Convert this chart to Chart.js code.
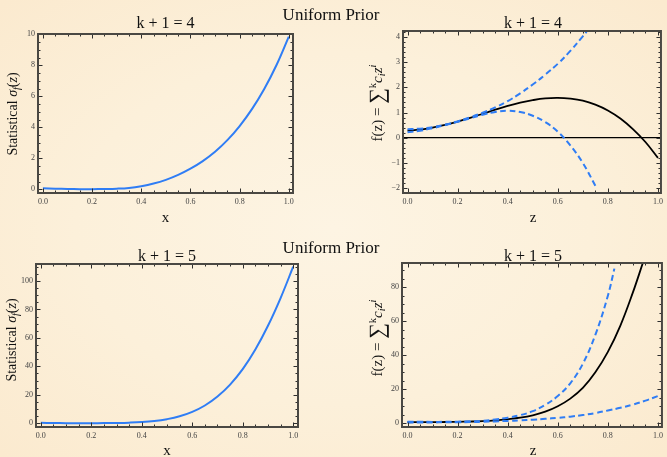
<!DOCTYPE html>
<html><head><meta charset="utf-8">
<script src="https://cdn.jsdelivr.net/npm/chart.js@4/dist/chart.umd.min.js"></script>
<style>
html,body{margin:0;padding:0;}
body{width:667px;height:457px;overflow:hidden;position:relative;
background: radial-gradient(ellipse 70% 70% at 50% 50%, #fdf4e3 0%, #fcf0da 55%, #fbeacf 100%);
font-family:"Liberation Serif","Times New Roman",serif;color:#111;}
canvas{position:absolute;}
.t{position:absolute;white-space:nowrap;transform:translate(-50%,-50%);line-height:1;}
.r{position:absolute;white-space:nowrap;transform:translate(-50%,-50%) rotate(-90deg);line-height:1;}
.sb{font-size:0.7em;vertical-align:-0.25em;}
.sp{font-size:0.7em;vertical-align:0.55em;}
</style></head><body>
<canvas id="p1" width="333" height="228" style="left:0;top:0"></canvas>
<canvas id="p2" width="334" height="228" style="left:333px;top:0"></canvas>
<canvas id="p3" width="333" height="229" style="left:0;top:228px"></canvas>
<canvas id="p4" width="334" height="229" style="left:333px;top:228px"></canvas>

<div class="t" style="left:331px;top:14px;font-size:17px">Uniform Prior</div>
<div class="t" style="left:331px;top:247px;font-size:17px">Uniform Prior</div>
<div class="t" style="left:165.5px;top:22.5px;font-size:16px">k + 1 = 4</div>
<div class="t" style="left:533px;top:22.5px;font-size:16px">k + 1 = 4</div>
<div class="t" style="left:167px;top:256px;font-size:16px">k + 1 = 5</div>
<div class="t" style="left:533px;top:256px;font-size:16px">k + 1 = 5</div>
<div class="t" style="left:165.5px;top:217px;font-size:15px">x</div>
<div class="t" style="left:533px;top:217px;font-size:15px">z</div>
<div class="t" style="left:167px;top:450px;font-size:15px">x</div>
<div class="t" style="left:533px;top:450px;font-size:15px">z</div>
<div class="r" style="left:14px;top:114px;font-size:14px">Statistical <i>σ<span class="sb">f</span></i>(<i>z</i>)</div>
<div class="r" style="left:13px;top:340px;font-size:14px">Statistical <i>σ<span class="sb">f</span></i>(<i>z</i>)</div>
<div class="r" style="left:377px;top:103px;font-size:15px">f(z) = <span style="font-size:22px;vertical-align:-2px">∑</span><span class="sp">k</span><i>c<span class="sb">i</span>z<span class="sp">i</span></i></div>
<div class="r" style="left:377px;top:338px;font-size:15px">f(z) = <span style="font-size:22px;vertical-align:-2px">∑</span><span class="sp">k</span><i>c<span class="sb">i</span>z<span class="sp">i</span></i></div>

<script>
// ---------- data ----------
const xGrid = [0,0.05,0.1,0.15,0.2,0.25,0.3,0.35,0.4,0.45,0.5,0.55,0.6,0.65,0.7,0.75,0.8,0.85,0.9,0.95,1.0];

// top-left: statistical sigma, k+1 = 4
const sigmaK4 = [0.06,0.04,0.02,0.01,0.01,0.02,0.04,0.09,0.20,0.37,0.61,0.93,1.33,1.82,2.42,3.17,4.08,5.17,6.47,8.02,9.85];

// bottom-left: statistical sigma, k+1 = 5
const sigmaK5 = [0.3,0.2,0.12,0.1,0.1,0.15,0.25,0.45,0.85,1.6,2.9,4.9,8.0,12.5,18.8,27.2,38.0,51.8,68.5,88.0,110.0];

// top-right: fit f(z), k+1 = 4, with upper / lower dashed bands
const fitK4 = [0.28,0.32,0.40,0.51,0.64,0.79,0.95,1.11,1.26,1.39,1.49,1.56,1.58,1.55,1.47,1.31,1.08,0.76,0.34,-0.17,-0.80];
const upperZK4 = [0,0.05,0.1,0.15,0.2,0.25,0.3,0.35,0.4,0.45,0.5,0.55,0.6,0.65,0.7,0.715];
const upperK4  = [0.34,0.36,0.42,0.52,0.65,0.81,0.99,1.20,1.45,1.76,2.11,2.50,2.93,3.44,4.02,4.20];
const lowerZK4 = [0,0.05,0.1,0.15,0.2,0.25,0.3,0.35,0.4,0.45,0.5,0.55,0.6,0.65,0.7,0.75,0.755];
const lowerK4  = [0.22,0.28,0.38,0.50,0.63,0.77,0.91,1.02,1.07,1.02,0.87,0.62,0.24,-0.30,-1.00,-1.90,-2.00];

// bottom-right: fit f(z), k+1 = 5, with upper / lower dashed bands
const fitZK5 = [0,0.05,0.1,0.15,0.2,0.25,0.3,0.35,0.4,0.45,0.5,0.55,0.6,0.65,0.7,0.75,0.8,0.85,0.9,0.94];
const fitK5  = [0.6,0.65,0.7,0.75,0.85,1.0,1.25,1.7,2.4,3.3,4.7,6.8,10.0,14.5,20.8,30.0,42.0,57.5,77.0,94.5];
const upperZK5 = [0,0.05,0.1,0.15,0.2,0.25,0.3,0.35,0.4,0.45,0.5,0.55,0.6,0.65,0.7,0.75,0.8,0.826];
const upperK5  = [0.9,0.85,0.8,0.85,0.95,1.15,1.5,2.2,3.3,4.8,7.1,10.8,16.0,23.5,35.0,52.0,75.0,91.0];
const lowerK5  = [0.4,0.45,0.5,0.55,0.6,0.7,0.85,1.1,1.4,1.7,2.1,2.6,3.2,3.9,4.8,6.0,7.5,9.1,11.0,13.3,16.0];

// ---------- drawing ----------
const BLUE = '#2f7df5';
const FONT = "'Liberation Serif','Times New Roman',serif";
const pts = (xs, ys) => xs.map((x, i) => ({x: x, y: ys[i]}));

const framePlugin = {
  id: 'frame',
  afterDraw(chart) {
    const o = chart.options.plugins.frame;
    const {ctx, chartArea: a, scales} = chart;
    ctx.save();
    ctx.strokeStyle = '#2e2e2e';
    ctx.lineWidth = 1;
    const drawTicks = (scale, major, minor, horiz) => {
      const i0 = Math.ceil(scale.min / minor - 1e-9);
      for (let i = i0; i * minor <= scale.max + 1e-9; i++) {
        const v = i * minor;
        const r = v / major;
        const isMajor = Math.abs(r - Math.round(r)) < 1e-6;
        const len = isMajor ? 4.5 : 2.5;
        const p = Math.round(scale.getPixelForValue(v)) + 0.5;
        ctx.beginPath();
        if (horiz) {
          ctx.moveTo(p, a.bottom); ctx.lineTo(p, a.bottom - len);
          ctx.moveTo(p, a.top); ctx.lineTo(p, a.top + len);
        } else {
          ctx.moveTo(a.left, p); ctx.lineTo(a.left + len, p);
          ctx.moveTo(a.right, p); ctx.lineTo(a.right - len, p);
        }
        ctx.stroke();
      }
    };
    drawTicks(scales.x, o.xMajor, o.xMinor, true);
    drawTicks(scales.y, o.yMajor, o.yMinor, false);
    ctx.strokeStyle = '#4a4843';
    ctx.lineWidth = 2;
    ctx.strokeRect(a.left, a.top, a.right - a.left, a.bottom - a.top);
    ctx.restore();
  }
};

function makePanel(id, cfg) {
  const canvas = document.getElementById(id);
  const W = canvas.width, H = canvas.height, A = cfg.area;
  const tickFont = {family: FONT, size: 8};
  return new Chart(canvas, {
    type: 'scatter',
    data: {datasets: cfg.datasets},
    options: {
      responsive: false, animation: false, maintainAspectRatio: false,
      layout: {padding: {left: 0, top: A.top, right: W - A.right, bottom: 0}},
      elements: {point: {radius: 0}},
      plugins: {
        legend: {display: false}, tooltip: {enabled: false}, title: {display: false},
        frame: {xMajor: 0.2, xMinor: 0.05, yMajor: cfg.yMajor, yMinor: cfg.yMinor}
      },
      scales: {
        x: {
          type: 'linear', min: cfg.x[0], max: cfg.x[1],
          afterFit: s => { s.height = H - A.bottom; },
          grid: {display: false, drawTicks: false}, border: {display: false},
          ticks: {stepSize: 0.2, includeBounds: false, autoSkip: false, maxRotation: 0,
                  padding: 4, font: tickFont, color: '#444',
                  callback: v => Number(v).toFixed(1)}
        },
        y: {
          type: 'linear', min: cfg.y[0], max: cfg.y[1],
          afterFit: s => { s.width = A.left; },
          grid: cfg.zeroLine ? {display: true, drawTicks: false, lineWidth: 1.2,
                  color: c => (c.tick && c.tick.value === 0) ? '#000' : 'rgba(0,0,0,0)'}
                : {display: false, drawTicks: false},
          border: {display: false},
          ticks: {stepSize: cfg.yMajor, includeBounds: false, autoSkip: false,
                  padding: 3, font: tickFont, color: '#444',
                  callback: v => v < 0 ? '\u2212' + Math.abs(v) : String(Math.round(v * 100) / 100)}
        }
      }
    },
    plugins: [framePlugin]
  });
}

const solidBlue = data => ({data, showLine: true, borderColor: BLUE, borderWidth: 2, tension: 0.4, order: 0});
const dashBlue = data => ({data, showLine: true, borderColor: BLUE, borderWidth: 2, borderDash: [6, 3.5], tension: 0.4, order: 0});
const solidBlack = data => ({data, showLine: true, borderColor: '#000', borderWidth: 1.8, tension: 0.4, order: 1});

makePanel('p1', {
  area: {left: 38, right: 293, top: 34, bottom: 193},
  x: [-0.02, 1.017], y: [-0.24, 10.02], yMajor: 2, yMinor: 0.5,
  datasets: [solidBlue(pts(xGrid, sigmaK4))]
});
makePanel('p2', {
  area: {left: 70, right: 330, top: 31, bottom: 193},
  x: [-0.018, 1.012], y: [-2.19, 4.23], yMajor: 1, yMinor: 0.2, zeroLine: true,
  datasets: [dashBlue(pts(upperZK4, upperK4)), dashBlue(pts(lowerZK4, lowerK4)), solidBlack(pts(xGrid, fitK4))]
});
makePanel('p3', {
  area: {left: 36, right: 298, top: 36, bottom: 199},
  x: [-0.019, 1.019], y: [-2.6, 111.9], yMajor: 20, yMinor: 5,
  datasets: [solidBlue(pts(xGrid, sigmaK5))]
});
makePanel('p4', {
  area: {left: 69, right: 331, top: 35, bottom: 199},
  x: [-0.022, 1.016], y: [-2.2, 94.3], yMajor: 20, yMinor: 5,
  datasets: [dashBlue(pts(upperZK5, upperK5)), dashBlue(pts(xGrid, lowerK5)), solidBlack(pts(fitZK5, fitK5))]
});
</script>
</body></html>
